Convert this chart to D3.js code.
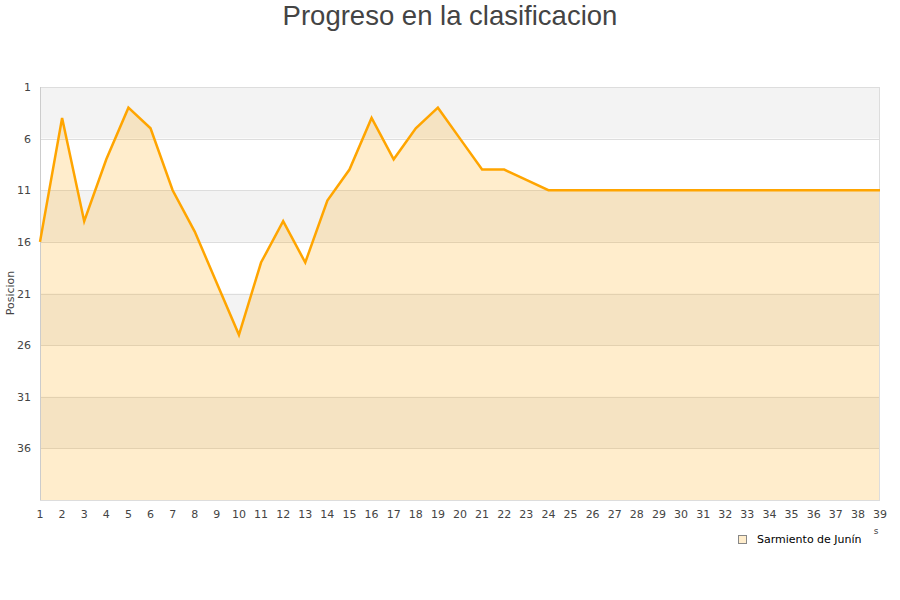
<!DOCTYPE html>
<html><head><meta charset="utf-8">
<script src="https://cdn.jsdelivr.net/npm/d3@7"></script>
<style>body{margin:0;background:#fff;}svg{display:block;}</style>
</head><body>
<svg id="c" width="900" height="600"></svg>
<script>
const jornadas = d3.range(1, 40);
const posiciones = [16,4,14,8,3,5,11,15,20,25,18,14,18,12,9,4,8,5,3,6,9,9,10,11,11,11,11,11,11,11,11,11,11,11,11,11,11,11,11];
const yTicks = [1,6,11,16,21,26,31,36];
const seriesName = "Sarmiento de Junín";
const title = "Progreso en la clasificacion";
const yLabel = "Posicion";

const svg = d3.select("#c");
const L = 40, R = 880, T = 87, B = 500;
const x = d3.scaleLinear().domain([1, 39]).range([L, R]);
const y = d3.scaleLinear().domain([1, 41]).range([T, B]);

// bands
const bands = d3.range(1, 41, 5);
svg.selectAll("rect.band").data(bands).enter().append("rect")
  .attr("x", L).attr("width", R - L)
  .attr("y", d => y(d)).attr("height", d => y(d + 5) - y(d))
  .attr("fill", (d, i) => i % 2 === 0 ? "#f3f3f3" : "#ffffff");

// gridlines
svg.selectAll("line.grid").data(yTicks).enter().append("line")
  .attr("x1", L).attr("x2", R).attr("y1", d => Math.round(y(d)) + 0.5).attr("y2", d => Math.round(y(d)) + 0.5)
  .attr("stroke", "#dddddd").attr("stroke-width", 1);

const data = jornadas.map((j, i) => ({j, p: posiciones[i]}));
const area = d3.area().x(d => x(d.j)).y0(B).y1(d => y(d.p));
svg.append("path").datum(data).attr("d", area).attr("fill", "#ffa500").attr("fill-opacity", 0.2);

// plot border
svg.append("rect").attr("x", L + 0.5).attr("y", T + 0.5).attr("width", R - L - 1).attr("height", B - T)
  .attr("fill", "none").attr("stroke", "#dddddd");
svg.append("line").attr("x1", L + 0.5).attr("x2", L + 0.5).attr("y1", T).attr("y2", B)
  .attr("stroke", "#cccccc");

const line = d3.line().x(d => x(d.j)).y(d => y(d.p));
svg.append("path").datum(data).attr("d", line).attr("fill", "none")
  .attr("stroke", "#ffa500").attr("stroke-width", 2.5).attr("stroke-linejoin", "miter");

// y tick labels
svg.selectAll("text.yt").data(yTicks).enter().append("text")
  .attr("x", 31).attr("y", d => y(d) + 4).attr("text-anchor", "end")
  .attr("font-family", "DejaVu Sans").attr("font-size", 11).attr("fill", "#444")
  .text(d => d);

// x tick labels
svg.selectAll("text.xt").data(jornadas).enter().append("text")
  .attr("x", d => x(d)).attr("y", 518).attr("text-anchor", "middle")
  .attr("font-family", "DejaVu Sans").attr("font-size", 11).attr("fill", "#444")
  .text(d => d);

// title
svg.append("text").attr("x", 450).attr("y", 25).attr("text-anchor", "middle")
  .attr("font-family", "Liberation Sans, Arial, sans-serif").attr("font-size", 27.5).attr("fill", "#444")
  .text(title);

// y label
svg.append("text").attr("transform", "translate(14,293) rotate(-90)").attr("text-anchor", "middle")
  .attr("font-family", "DejaVu Sans").attr("font-size", 11).attr("fill", "#444")
  .text(yLabel);

// truncated x label remnant
svg.append("text").attr("x", 876).attr("y", 534).attr("text-anchor", "middle")
  .attr("font-family", "DejaVu Sans").attr("font-size", 9).attr("fill", "#444").text("s");

// legend
svg.append("rect").attr("x", 738.5).attr("y", 535.5).attr("width", 8).attr("height", 8)
  .attr("fill", "#ffedcc").attr("stroke", "#888").attr("stroke-width", 1);
svg.append("text").attr("x", 757).attr("y", 543)
  .attr("font-family", "DejaVu Sans").attr("font-size", 11).attr("fill", "#000")
  .text(seriesName);
</script>
</body></html>
